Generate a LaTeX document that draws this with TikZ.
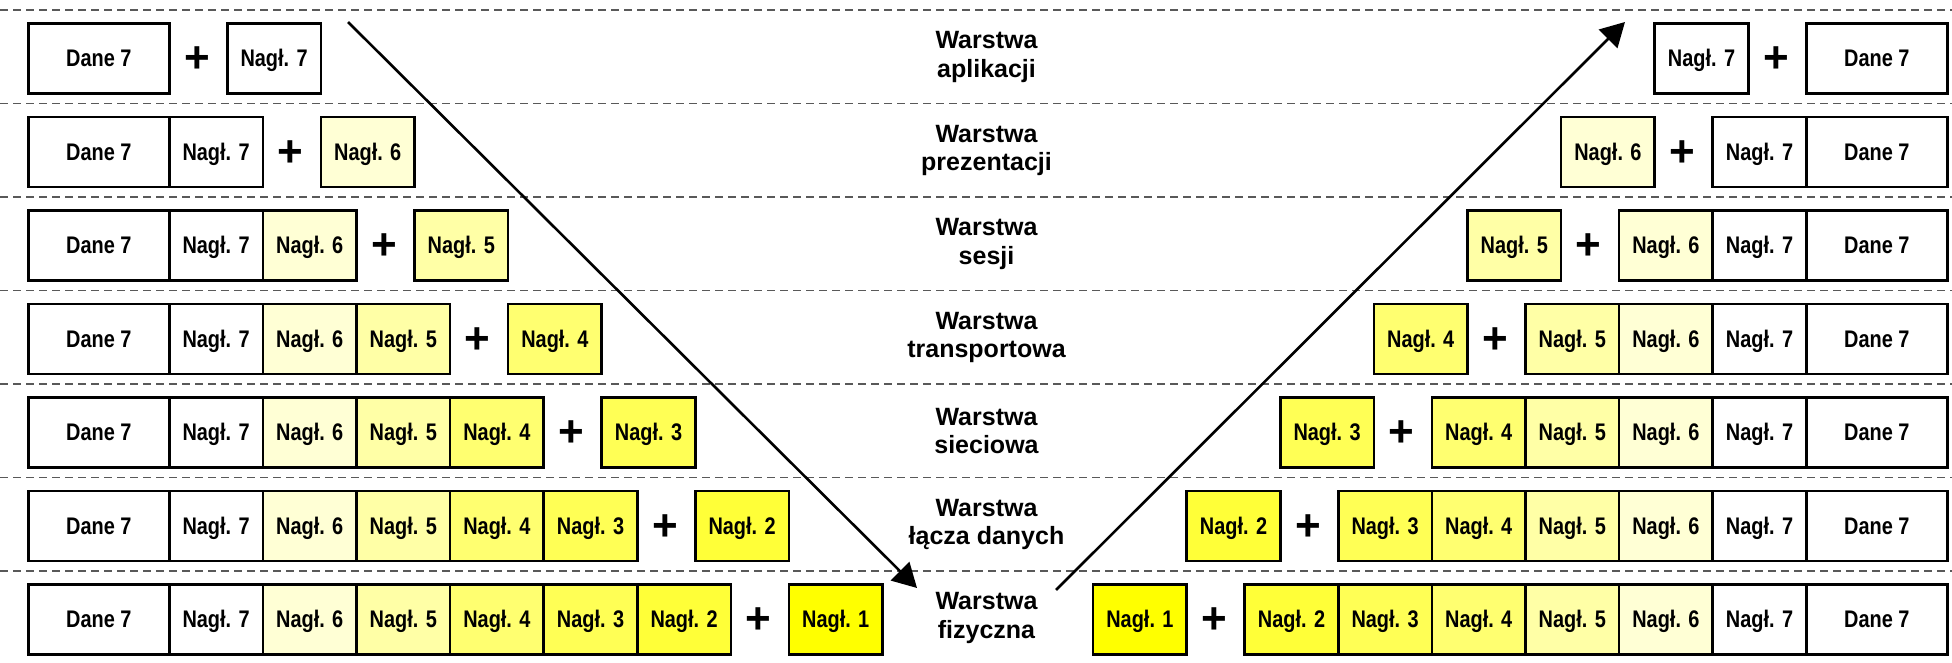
\documentclass[tikz,border=0pt]{standalone}
\usepackage{fontspec}
\setmainfont{Liberation Sans}
\newfontfamily\boxfont{Liberation Sans}[FakeStretch=0.83]
\usetikzlibrary{arrows.meta}
\definecolor{c7}{HTML}{FFFFFF}
\definecolor{c6}{HTML}{FFFFD5}
\definecolor{c5}{HTML}{FFFFA6}
\definecolor{c4}{HTML}{FFFF70}
\definecolor{c3}{HTML}{FFFF55}
\definecolor{c2}{HTML}{FFFF38}
\definecolor{c1}{HTML}{FFFF00}
\tikzset{
  cell/.style={draw=black, line width=2.6pt, minimum height=70pt, inner sep=0pt,
    anchor=north west, font=\boxfont\bfseries\fontsize{24}{28}\selectfont,
    text height=17pt, text depth=0pt},
  datacell/.style={cell, minimum width=141pt, fill=white},
  hdrcell/.style={cell, minimum width=93.6pt},
  plussign/.style={font=\bfseries\fontsize{44}{44}\selectfont, inner sep=0pt, yshift=-3pt},
  layer/.style={font=\bfseries\fontsize{25}{28.5}\selectfont, align=center, inner sep=0pt},
  sepline/.style={draw=black!65, line width=1.3pt, dash pattern=on 8pt off 5pt},
  flow/.style={line width=2.6pt, -{Triangle[length=24pt,width=26pt]}}
}
\begin{document}
\begin{tikzpicture}[x=1pt,y=1pt]
\useasboundingbox (0,0) rectangle (1952,-662);
\fill[white] (0,0) rectangle (1952,-662);
% separators
\foreach \k in {0,...,6}{
  \draw[sepline] (0,{-10-\k*93.5}) -- (1952,{-10-\k*93.5});
}
% rows
\foreach \k/\lab in {1/{Warstwa\\aplikacji},2/{Warstwa\\prezentacji},3/{Warstwa\\sesji},
  4/{Warstwa\\transportowa},5/{Warstwa\\sieciowa},6/{Warstwa\\łącza danych},7/{Warstwa\\fizyczna}}{
  \pgfmathsetmacro\yt{-22-(\k-1)*93.5}
  \pgfmathtruncatemacro\jmin{9-\k}
  \pgfmathtruncatemacro\hj{8-\k}
  \pgfmathsetmacro\xe{168+(\k-1)*93.6}
  \pgfmathsetmacro\xs{1805-(\k-1)*93.6}
  \node[datacell] (LD\k) at (27,\yt) {Dane 7};
  \node[datacell] (RD\k) at (1805,\yt) {Dane 7};
  \ifnum\k>1
    \foreach \j in {7,...,\jmin}{
      \node[hdrcell, fill=c\j] (L\k-\j) at ({168+(7-\j)*93.6},\yt) {Nagł. \j};
      \node[hdrcell, fill=c\j] (R\k-\j) at ({1805-(8-\j)*93.6},\yt) {Nagł. \j};
    }
  \fi
  \node[plussign] (LP\k) at ({\xe+29},{\yt-35}) {+};
  \node[hdrcell, fill=c\hj] (LH\k) at ({\xe+58},\yt) {Nagł. \hj};
  \node[plussign] (RP\k) at ({\xs-29},{\yt-35}) {+};
  \node[hdrcell, fill=c\hj] (RH\k) at ({\xs-151.6},\yt) {Nagł. \hj};
  \node[layer] (W\k) at (986.5,{\yt-35}) {\lab};
}
% flow arrows
\coordinate (a1) at (348,-22);
\coordinate (a2) at (917,-588);
\coordinate (b1) at (1056,-590);
\coordinate (b2) at (1625,-22);
\draw[flow] (a1) -- (a2);
\draw[flow] (b1) -- (b2);
\end{tikzpicture}
\end{document}
